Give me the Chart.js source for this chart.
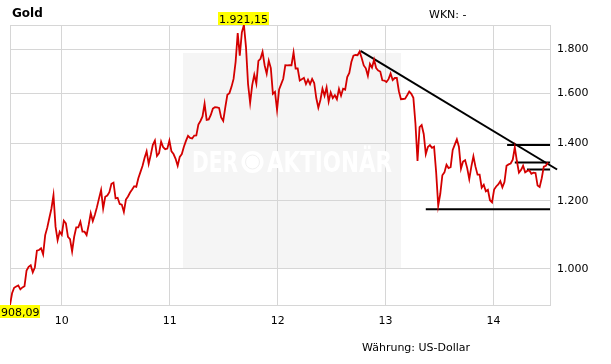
<!DOCTYPE html>
<html lang="de">
<head>
  <meta charset="UTF-8">
  <title>Gold</title>
  <style>
    html, body { margin: 0; padding: 0; background: #fff; }
    canvas { display: block; }
  </style>
</head>
<body>
  <canvas id="goldChart" width="611" height="364"></canvas>
  <script src="https://cdn.jsdelivr.net/npm/chart.js@4"></script>
  <script>
// weekly closes (Fridays), first one 10.07.2009
const firstWeek = '2009-07-10';
const gold2009 = [908.09, 937, 951, 954, 957, 947, 952, 955, 996, 1006, 1010, 991, 1004, 1050, 1052, 1057, 1040, 1095, 1117, 1146, 1175, 1218, 1120, 1080, 1105];
const gold2010 = [1096, 1138, 1130, 1090, 1083, 1048, 1090, 1118, 1118, 1135, 1105, 1105, 1095, 1125, 1161, 1137, 1156, 1180, 1208, 1235, 1176, 1213, 1217, 1228, 1256, 1260, 1208, 1210, 1190, 1188, 1165, 1204, 1214, 1227, 1237, 1248, 1246, 1275, 1296, 1317, 1346, 1370, 1325, 1357, 1394, 1410, 1353, 1363, 1406, 1385, 1378, 1380, 1410];
const gold2011 = [1370, 1360, 1343, 1318, 1350, 1360, 1387, 1409, 1428, 1420, 1418, 1429, 1430, 1472, 1486, 1504, 1556, 1490, 1492, 1510, 1536, 1542, 1541, 1539, 1500, 1486, 1541, 1594, 1601, 1628, 1663, 1742, 1880, 1770, 1884, 1921.15, 1811, 1640, 1560, 1636, 1682, 1642, 1745, 1755, 1788, 1725, 1686, 1746, 1712, 1598, 1606, 1531];
const gold2012 = [1617, 1640, 1664, 1725, 1724, 1725, 1725, 1785, 1710, 1710, 1656, 1662, 1668, 1640, 1660, 1640, 1663, 1645, 1580, 1540, 1572, 1620, 1590, 1626, 1565, 1604, 1580, 1592, 1575, 1619, 1590, 1620, 1616, 1671, 1690, 1740, 1770, 1773, 1772, 1790, 1759, 1724, 1711, 1677, 1731, 1714, 1751, 1712, 1701, 1696, 1657, 1656];
const gold2013 = [1649, 1662, 1687, 1658, 1667, 1667, 1609, 1575, 1576, 1577, 1592, 1608, 1598, 1581, 1476, 1335, 1462, 1470, 1435, 1360, 1386, 1393, 1383, 1387, 1296, 1185, 1223, 1285, 1295, 1322, 1310, 1313, 1375, 1395, 1415, 1387, 1308, 1333, 1338, 1310, 1272, 1315, 1352, 1315, 1287, 1287, 1243, 1253, 1231, 1236, 1202, 1195];
const gold2014 = [1237, 1247, 1254, 1265, 1244, 1262, 1318, 1323, 1326, 1340, 1385, 1335, 1294, 1303, 1318, 1295, 1300, 1302, 1290, 1294, 1293, 1250, 1245, 1275, 1315, 1318, 1330];

const yearTicks = [2010, 2011, 2012, 2013, 2014];
const yearLabels = ['10', '11', '12', '13', '14'];
const priceTicks = [1000, 1200, 1400, 1600, 1800];
const axisStart = '2009-07-10';
const axisEnd = '2014-07-11';
const priceMin = 908.09;
const priceMax = 1921.15;

// drawn lines (diagonal resistance + horizontal marks)
const lineFrom = ['2012-10-08', '2013-05-17', '2014-02-16', '2014-03-14', '2014-04-24'];
const lineTo = ['2014-08-04', axisEnd, axisEnd, axisEnd, axisEnd];
const lineFromPrice = [1793, 1173, 1393, 1330, 1305];
const lineToPrice = [1305, 1173, 1393, 1330, 1305];

function decYear(s) {
  const [y, m, d] = s.split('-').map(Number);
  return yearOf(Date.UTC(y, m - 1, d));
}
function yearOf(t) {
  const y = new Date(t).getUTCFullYear();
  const a = Date.UTC(y, 0, 1), b = Date.UTC(y + 1, 0, 1);
  return y + (t - a) / (b - a);
}
function fmt(v, dec) {
  const parts = v.toFixed(dec).split('.');
  parts[0] = parts[0].replace(/\B(?=(\d{3})+(?!\d))/g, '.');
  return parts.join(',');
}

const prices = [...gold2009, ...gold2010, ...gold2011, ...gold2012, ...gold2013, ...gold2014];
const t0 = Date.parse(firstWeek + 'T00:00:00Z');
const goldPoints = prices.map((p, i) => ({ x: yearOf(t0 + i * 7 * 86400000), y: p }));

const trendSets = lineFrom.map((f, i) => ({
  data: [{ x: decYear(f), y: lineFromPrice[i] }, { x: decYear(lineTo[i]), y: lineToPrice[i] }],
  borderColor: '#000',
  borderWidth: 2,
  pointRadius: 0,
  clip: false
}));

Chart.defaults.font.family = '"DejaVu Sans", Verdana, sans-serif';
Chart.defaults.font.size = 11;
Chart.defaults.color = '#000';

const gridColor = '#d6d6d6';

const decor = {
  id: 'decor',
  beforeDraw(chart) {
    const { ctx, chartArea: a } = chart;
    ctx.save();
    ctx.fillStyle = '#fff';
    ctx.fillRect(0, 0, chart.width, chart.height);
    ctx.fillStyle = '#f5f5f5';
    ctx.fillRect(a.left + 173, a.top + 28, 218, 216);
    ctx.restore();
  },
  beforeDatasetsDraw(chart) {
    const { ctx, chartArea: a } = chart;
    ctx.save();
    // watermark
    ctx.fillStyle = '#ffffff';
    ctx.font = 'bold 28px "DejaVu Sans Condensed", "DejaVu Sans"';
    ctx.textBaseline = 'alphabetic';
    ctx.fillText('DER', a.left + 182, a.top + 147, 46);
    ctx.fillText('AKTIONÄR', a.left + 257, a.top + 147, 125);
    ctx.beginPath();
    ctx.arc(a.left + 242.5, a.top + 137, 11, 0, Math.PI * 2);
    ctx.fill();
    ctx.strokeStyle = '#f0f0f0';
    ctx.lineWidth = 1;
    ctx.beginPath();
    ctx.arc(a.left + 242.5, a.top + 137, 7, 0, Math.PI * 2);
    ctx.stroke();
    // frame
    ctx.strokeStyle = gridColor;
    ctx.strokeRect(Math.round(a.left) + 0.5, Math.round(a.top) + 0.5, Math.round(a.width), Math.round(a.height));
    ctx.restore();
  },
  afterDraw(chart) {
    const { ctx, chartArea: a, scales } = chart;
    ctx.save();
    ctx.fillStyle = '#000';
    ctx.textBaseline = 'alphabetic';
    ctx.font = 'bold 12px "DejaVu Sans"';
    ctx.fillText('Gold', 12, 17);
    ctx.font = '11px "DejaVu Sans"';
    ctx.fillText('WKN: -', 429, 18);
    ctx.fillText('Währung: US-Dollar', 362, 351);

    // max / min markers
    let iMax = 0, iMin = 0;
    goldPoints.forEach((p, i) => {
      if (p.y > goldPoints[iMax].y) iMax = i;
      if (p.y < goldPoints[iMin].y) iMin = i;
    });
    const tag = (p, top) => {
      const txt = fmt(p.y, 2);
      const w = ctx.measureText(txt).width + 2;
      let x = scales.x.getPixelForValue(p.x) - w / 2;
      x = Math.max(0, Math.min(chart.width - w, x));
      const y = top ? a.top - 13 : a.bottom;
      ctx.fillStyle = '#ffff00';
      ctx.fillRect(Math.round(x), y, Math.round(w), 13);
      ctx.fillStyle = '#000';
      ctx.fillText(txt, Math.round(x) + 1, y + 11);
    };
    tag(goldPoints[iMax], true);
    tag(goldPoints[iMin], false);
    ctx.restore();
  }
};

new Chart(document.getElementById('goldChart'), {
  type: 'line',
  data: {
    datasets: [{
      data: goldPoints,
      borderColor: '#d40000',
      borderWidth: 1.8,
      pointRadius: 0,
      tension: 0
    }, ...trendSets]
  },
  options: {
    responsive: false,
    animation: false,
    events: [],
    layout: { padding: { left: 10, top: 25, right: 0, bottom: 0 } },
    plugins: { legend: { display: false }, tooltip: { enabled: false } },
    scales: {
      x: {
        type: 'linear',
        min: decYear(axisStart),
        max: decYear(axisEnd),
        afterBuildTicks: s => { s.ticks = yearTicks.map(v => ({ value: v })); },
        afterFit: s => { s.height = 59; },
        ticks: {
          padding: 10,
          maxRotation: 0,
          autoSkip: false,
          callback: v => yearLabels[yearTicks.indexOf(v)]
        },
        grid: { color: gridColor, drawTicks: false },
        border: { display: false }
      },
      y: {
        type: 'logarithmic',
        position: 'right',
        min: priceMin,
        max: priceMax,
        afterBuildTicks: s => { s.ticks = priceTicks.map(v => ({ value: v })); },
        afterFit: s => { s.width = 61; },
        ticks: {
          padding: 7,
          callback: v => fmt(v, 0)
        },
        grid: { color: gridColor, drawTicks: false },
        border: { display: false }
      }
    }
  },
  plugins: [decor]
});
  </script>
</body>
</html>
